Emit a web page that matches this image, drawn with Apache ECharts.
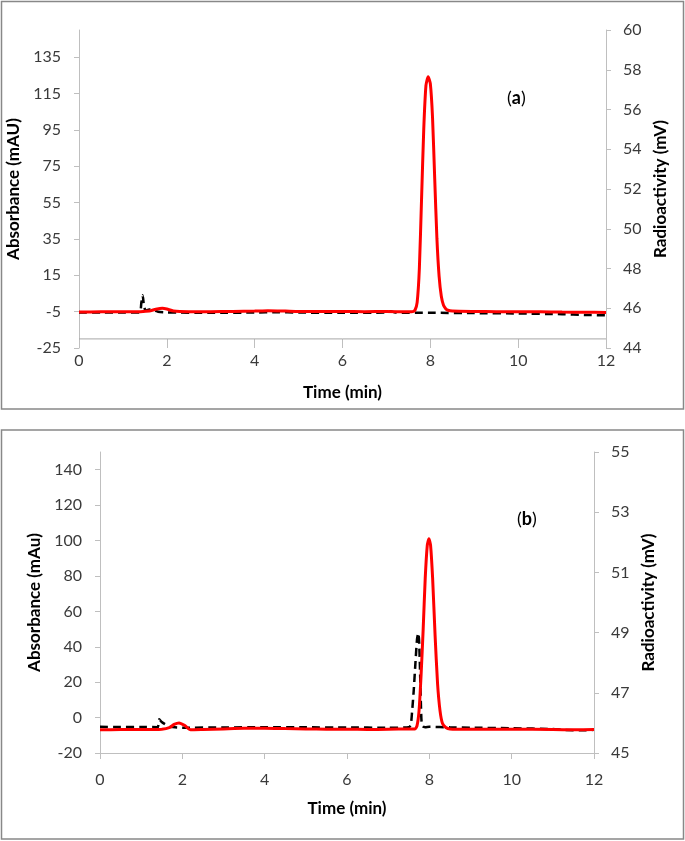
<!DOCTYPE html>
<html>
<head>
<meta charset="utf-8">
<script src="https://cdn.jsdelivr.net/npm/echarts@6/dist/echarts.min.js"></script>
<style>
  html, body { margin: 0; padding: 0; background: #fff; }
  #chart { width: 685px; height: 841px; }
</style>
</head>
<body>
<div id="chart"></div>
<script>
// ---------- Data ----------
// Panel (a): radioactivity (red, right axis, mV)
const aRadTime = [0, 0.5, 1.0, 1.4, 1.6, 1.75, 1.9, 2.0, 2.15, 2.5, 3.0, 3.5, 4.0, 4.3, 4.7, 5.0, 5.5, 6.0, 6.5, 7.0, 7.5,
  7.6, 7.65, 7.7, 7.75, 7.8, 7.85, 7.9, 7.95, 8.0, 8.05, 8.1, 8.15, 8.2, 8.25, 8.3, 8.35, 8.4, 8.5,
  9.0, 9.5, 10.0, 10.5, 11.0, 11.5, 12.0];
const aRad = [45.81, 45.82, 45.82, 45.83, 45.86, 45.95, 46.0, 45.96, 45.86, 45.83, 45.83, 45.84, 45.86, 45.88, 45.86, 45.84, 45.84, 45.84, 45.83, 45.84, 45.82,
  45.83, 45.9, 46.3, 48.0, 51.5, 55.0, 57.2, 57.65, 57.3, 55.6, 52.5, 49.5, 47.6, 46.6, 46.15, 45.98, 45.9, 45.86,
  45.84, 45.83, 45.82, 45.82, 45.81, 45.8, 45.79];
// Panel (a): absorbance (black dashed, left axis, mAU)
const aAbsTime = [0, 0.5, 1.0, 1.38, 1.42, 1.45, 1.48, 1.52, 1.6, 1.7, 1.8, 2.0, 3.0, 4.0, 4.5, 5.0, 6.0, 7.0, 7.1, 7.2, 8.0, 9.0, 10.0, 11.0, 11.5, 12.0];
const aAbs = [-5.5, -5.5, -5.5, -5.4, 0, 4, -2, -4.5, -3.8, -4.2, -5, -5.4, -5.6, -5.5, -5.3, -5.5, -5.6, -5.5, -4.8, -5.5, -5.6, -5.8, -6.0, -6.4, -6.8, -7.0];
// Panel (a): horizontal axis crossing value on the absorbance axis
const aAxisCross = -20;

// Panel (b): radioactivity (red, right axis, mV)
const bRadTime = [0, 0.5, 1.0, 1.5, 1.7, 1.8, 1.92, 2.05, 2.2, 2.5, 3.0, 3.5, 4.0, 4.5, 5.0, 5.5, 6.0, 6.5, 7.0, 7.5,
  7.65, 7.7, 7.75, 7.8, 7.85, 7.9, 7.95, 7.99, 8.03, 8.08, 8.14, 8.2, 8.26, 8.32, 8.4, 8.5,
  9.0, 10.0, 11.0, 11.5, 12.0];
const bRad = [45.77, 45.78, 45.78, 45.79, 45.85, 45.95, 46.0, 45.92, 45.77, 45.78, 45.80, 45.82, 45.82, 45.81, 45.80, 45.79, 45.79, 45.78, 45.79, 45.80,
  45.80, 45.9, 46.4, 47.6, 49.1, 50.8, 51.9, 52.12, 51.9, 50.8, 48.9, 47.3, 46.4, 45.98, 45.85, 45.8,
  45.79, 45.79, 45.78, 45.77, 45.78];
// Panel (b): absorbance (black dashed, left axis, mAu)
const bAbsTime = [0, 0.5, 1.0, 1.4, 1.44, 1.5, 1.6, 1.7, 2.0, 3.0, 4.0, 5.0, 6.0, 7.0, 7.5,
  7.55, 7.58, 7.62, 7.66, 7.7, 7.73, 7.75, 7.77, 7.79, 7.81, 7.84, 7.9,
  8.0, 8.5, 9.0, 10.0, 11.0, 11.3, 11.8, 12.0];
const bAbs = [-5.2, -5.3, -5.3, -5.4, -1.0, -2.5, -4.0, -5.2, -5.7, -5.6, -5.4, -5.5, -5.6, -5.7, -5.5,
  -4, 3, 15, 30, 44, 47.8, 44, 30, 12, -2, -5, -5.4,
  -5.2, -5.5, -5.7, -6.0, -6.5, -7.0, -7.2, -6.9];

// ---------- Axis ticks ----------
const timeTicks = [0, 2, 4, 6, 8, 10, 12];
const aAbsTicks = [-25, -5, 15, 35, 55, 75, 95, 115, 135];
const aRadTicks = [44, 46, 48, 50, 52, 54, 56, 58, 60];
const bAbsTicks = [-20, 0, 20, 40, 60, 80, 100, 120, 140];
const bRadTicks = [45, 47, 49, 51, 53, 55];

const pair = (ts, vs) => ts.map((t, i) => [t, vs[i]]);
const tMin = timeTicks[0], tMax = timeTicks[timeTicks.length - 1];

const FONT = 'Lato, "Open Sans", sans-serif';
const AX = '#bfbfbf';
const AX_LINE = '#a6a6a6';
const LBL = '#3a3a3a';
const LBL_SIZE = 16;
const NAME_SIZE = 17;

function xAxisCfg(gridIndex, opts) {
  return Object.assign({
    type: 'value', gridIndex, min: tMin, max: tMax, interval: 2,
    name: 'Time (min)', nameLocation: 'middle',
    nameTextStyle: { fontFamily: FONT, fontSize: NAME_SIZE, fontWeight: 'bold', color: '#000' },
    splitLine: { show: false }
  }, opts);
}
function yAxisCfg(gridIndex, name, min, max, ticks, position, gap, margin) {
  return {
    type: 'value', gridIndex, min, max, position,
    name, nameLocation: 'middle', nameGap: gap, nameRotate: 90,
    nameTextStyle: { fontFamily: FONT, fontSize: NAME_SIZE, fontWeight: 'bold', color: '#000' },
    splitLine: { show: false },
    axisLine: { show: true, onZero: false, lineStyle: { color: AX, width: 1 } },
    axisTick: { show: true, length: 5, lineStyle: { color: AX }, customValues: ticks },
    axisLabel: { fontFamily: FONT, fontSize: LBL_SIZE, color: LBL, margin, customValues: ticks }
  };
}

const chart = echarts.init(document.getElementById('chart'), null, { renderer: 'canvas' });
chart.setOption({
  animation: false,
  backgroundColor: '#fff',
  grid: [
    { left: 79, right: 79, top: 30, bottom: 493, containLabel: false, outerBoundsMode: 'none' },
    { left: 100, right: 91, top: 452, bottom: 88, containLabel: false, outerBoundsMode: 'none' }
  ],
  xAxis: [
    xAxisCfg(0, { nameGap: 36,
      axisLine: { show: false, onZero: false },
      axisTick: { show: true, inside: true, length: 9, lineStyle: { color: AX, width: 1 } },
      axisLabel: { fontFamily: FONT, fontSize: LBL_SIZE, color: LBL, margin: 5 } }),
    xAxisCfg(1, { nameGap: 47,
      axisLine: { show: true, onZero: false, lineStyle: { color: AX, width: 1 } },
      axisTick: { show: true, inside: false, length: 6, lineStyle: { color: AX } },
      axisLabel: { fontFamily: FONT, fontSize: LBL_SIZE, color: LBL, margin: 19 } })
  ],
  yAxis: [
    yAxisCfg(0, 'Absorbance (mAU)', -25, 150, aAbsTicks, 'left', 52, 18),
    yAxisCfg(0, 'Radioactivity (mV)', 44, 60, aRadTicks, 'right', 46, 17),
    yAxisCfg(1, 'Absorbance (mAu)', -20, 150, bAbsTicks, 'left', 52, 18),
    yAxisCfg(1, 'Radioactivity (mV)', 45, 55, bRadTicks, 'right', 46, 17)
  ],
  series: [
    {
      // horizontal axis line of panel (a), crossing the absorbance axis at -20
      type: 'line', name: 'axis (a)', xAxisIndex: 0, yAxisIndex: 0,
      data: [[tMin, aAxisCross], [tMax, aAxisCross]],
      showSymbol: false, silent: true, z: 1,
      lineStyle: { color: AX_LINE, width: 1 }
    },
    {
      type: 'line', name: 'Absorbance (a)', xAxisIndex: 0, yAxisIndex: 0, data: pair(aAbsTime, aAbs),
      showSymbol: false, smooth: 0.2, z: 2,
      lineStyle: { color: '#000', width: 2.5, type: [8, 5] }
    },
    {
      type: 'line', name: 'Radioactivity (a)', xAxisIndex: 0, yAxisIndex: 1, data: pair(aRadTime, aRad),
      showSymbol: false, smooth: 0.2, z: 3,
      lineStyle: { color: '#ff0000', width: 3 }
    },
    {
      type: 'line', name: 'Absorbance (b)', xAxisIndex: 1, yAxisIndex: 2, data: pair(bAbsTime, bAbs),
      showSymbol: false, smooth: 0.2, z: 2,
      lineStyle: { color: '#000', width: 2.5, type: [8, 5] }
    },
    {
      type: 'line', name: 'Radioactivity (b)', xAxisIndex: 1, yAxisIndex: 3, data: pair(bRadTime, bRad),
      showSymbol: false, smooth: 0.2, z: 3,
      lineStyle: { color: '#ff0000', width: 3 }
    }
  ],
  graphic: [
    { type: 'rect', shape: { x: 1.5, y: 1.5, width: 682, height: 407.5 },
      style: { fill: 'none', stroke: '#888', lineWidth: 1.5 }, silent: true },
    { type: 'rect', shape: { x: 1.5, y: 430, width: 682, height: 409 },
      style: { fill: 'none', stroke: '#888', lineWidth: 1.5 }, silent: true },
    { type: 'text', left: 507, top: 89,
      style: { text: '({b|a})', fontFamily: FONT, fontSize: 18, fill: '#000',
        rich: { b: { fontFamily: FONT, fontSize: 18, fontWeight: 'bold', fill: '#000' } } } },
    { type: 'text', left: 517, top: 510,
      style: { text: '({b|b})', fontFamily: FONT, fontSize: 18, fill: '#000',
        rich: { b: { fontFamily: FONT, fontSize: 18, fontWeight: 'bold', fill: '#000' } } } }
  ]
});
</script>
</body>
</html>
